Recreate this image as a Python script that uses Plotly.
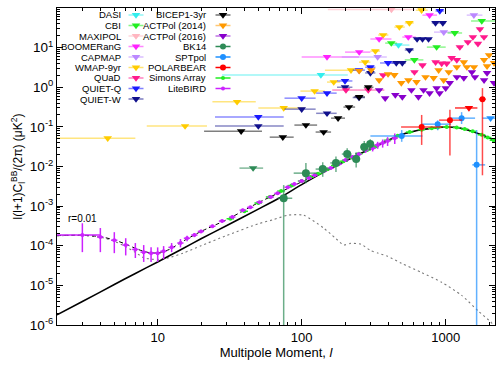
import math
import plotly.graph_objects as go

FONT = "Liberation Sans, Arial, Helvetica, sans-serif"

# ---------------- theory curves ----------------
lens_l = [2, 3, 5, 7, 10, 15, 20, 30, 50, 70, 100, 150, 200, 300, 400, 500, 700, 1000, 1200, 1500, 1800, 2000, 2200]
lens_D = [1.8e-6, 3.9e-6, 1.05e-5, 2.0e-5, 3.9e-5, 8.5e-5, 1.5e-4, 3.2e-4, 8.4e-4, 1.6e-3, 3.5e-3, 8.0e-3,
          1.35e-2, 2.8e-2, 4.6e-2, 6.5e-2, 8.6e-2, 9.9e-2, 9.6e-2, 7.9e-2, 6.2e-2, 5.3e-2, 4.5e-2]

tot_l = [2, 3, 4, 5, 6, 7, 8, 9, 10, 12, 15, 20, 30, 50, 70, 100, 150, 200, 300, 400, 500, 700, 1000, 1200,
         1500, 1800, 2000, 2200]
tot_D = [1.8e-4, 1.85e-4, 1.7e-4, 1.4e-4, 1.1e-4, 8.6e-5, 7.2e-5, 6.6e-5, 6.6e-5, 8.0e-5, 1.3e-4, 2.3e-4,
         4.5e-4, 1.22e-3, 2.2e-3, 4.1e-3, 8.3e-3, 1.37e-2, 2.8e-2, 4.6e-2, 6.5e-2, 8.6e-2, 9.9e-2, 9.6e-2,
         7.9e-2, 6.2e-2, 5.3e-2, 4.5e-2]

ten_l = [2, 3, 4, 5, 6, 7, 8, 9, 10, 12, 15, 20, 30, 50, 63, 80, 103, 142, 170, 196, 219, 257, 301, 340,
         395, 494, 681, 937, 1291, 1695, 2053, 2200]
ten_D = [1.8e-4, 1.8e-4, 1.65e-4, 1.3e-4, 9.5e-5, 6.8e-5, 5.0e-5, 4.6e-5, 4.5e-5, 5.0e-5, 6.5e-5, 1.0e-4,
         1.8e-4, 3.6e-4, 4.5e-4, 5.9e-4, 5.9e-4, 2.8e-4, 1.6e-4, 1.05e-4, 1.15e-4, 1.1e-4, 7.6e-5, 6.5e-5,
         5.4e-5, 3.6e-5, 2.1e-5, 1.2e-5, 5.6e-6, 2.2e-6, 1.2e-6, 9e-7]

# ---------------- upper limits: centre l, limit D, l_min, l_max ----------------
dasi_l, dasi_D, dasi_lo, dasi_hi = [136, 470], [2.04, 11.6], [28, 420], [209, 560]
cbi_l = [419, 606, 865, 1156, 1780]
cbi_D = [13, 4.9, 10.3, 23.4, 47]
cbi_lo = [380, 520, 740, 1030, 1500]
cbi_hi = [460, 700, 1000, 1300, 2200]
maxi_l, maxi_D, maxi_lo, maxi_hi = [420], [92], [152], [610]
boom_l = [150, 251, 345, 550, 773]
boom_D = [5.8, 7.7, 16.5, 18.5, 66]
boom_lo = [100, 200, 300, 500, 690]
boom_hi = [250, 300, 420, 620, 870]
capm_l = [337, 970, 1570]
capm_D = [5.8, 24.6, 66]
capm_lo = [190, 830, 1400]
capm_hi = [390, 1130, 1800]
wmap_l = [4.5, 15.5, 35.6, 75, 123, 167, 220, 276, 325, 368, 477, 560, 680]
wmap_D = [0.052, 0.105, 0.43, 0.30, 0.80, 1.35, 2.7, 4.3, 8.2, 20.8, 33, 42, 88]
wmap_lo = [2, 8.4, 24, 50, 98, 150, 145, 250, 300, 340, 440, 520, 620]
wmap_hi = [7, 22, 48, 105, 145, 185, 260, 300, 350, 400, 520, 600, 750]
quad_l = [203, 290, 368, 607, 690, 851, 938, 1016, 1100, 1195, 1254, 1426, 1545, 1675, 1730, 1845]
quad_D = [0.85, 0.85, 2.03, 2.42, 3.6, 4.3, 4.0, 4.0, 5.5, 4.9, 10.3, 13.8, 18.5, 12.6, 29.5, 18.5]
qq_l = [50, 100, 150, 200, 250, 300, 398, 910]
qq_D = [0.178, 0.53, 0.71, 1.44, 2.7, 3.2, 4.1, 84]
qq_lo = [25, 76, 126, 176, 226, 276, 350, 850]
qq_hi = [75, 125, 175, 225, 275, 325, 450, 975]
qw_l = [50, 100, 150, 200, 250, 300, 454, 500, 560, 633, 690, 760, 850, 955]
qw_D = [0.105, 0.28, 0.22, 1.0, 0.55, 2.3, 4.1, 4.1, 8.7, 16.5, 16.5, 16.5, 42, 42]
qw_lo = [25, 76, 126, 176, 226, 276, 420, 470, 520, 600, 660, 720, 800, 900]
qw_hi = [75, 125, 175, 225, 275, 325, 480, 530, 600, 660, 720, 800, 900, 1000]
bic_l = [38, 74, 107, 142, 179, 213, 251, 290]
bic_D = [0.078, 0.055, 0.111, 0.074, 0.166, 0.316, 0.57, 1.0]
bic_lo = [21, 60, 89, 125, 160, 195, 230, 270]
bic_hi = [53, 88, 128, 160, 200, 235, 275, 315]
a14_l = [251, 304, 345, 398, 440, 492, 551, 627, 724, 824, 893, 968, 1050, 1195, 1336, 1403, 1571, 1847,
         1937, 2000, 2166]
a14_D = [2.6, 2.7, 1.51, 2.15, 2.04, 1.28, 1.51, 1.36, 1.81, 1.72, 2.7, 1.51, 2.42, 3.24, 4.3, 3.24, 3.24,
         4.9, 3.4, 6.5, 4.1]
a16_l = [345, 380, 447, 500, 578, 647, 701, 773, 865, 907, 1000, 1067, 1195, 1336, 1520, 1596, 1847, 1937, 2166]
a16_D = [0.85, 0.53, 0.64, 0.57, 0.85, 0.57, 0.85, 0.71, 0.95, 0.71, 0.95, 1.28, 1.81, 1.72, 2.42, 1.81,
         1.51, 2.3, 1.28]

# ---------------- detections ----------------
bk_lim_l, bk_lim_D, bk_lim_lo, bk_lim_hi = [46], [0.0091], [37], [54]
bk_l = [75, 107, 140, 173, 207, 239, 272, 299]
bk_D = [1.58e-3, 6.8e-3, 8.6e-3, 0.0123, 0.0206, 0.0155, 0.031, 0.0368]
bk_up = [3.4e-3, 0.0123, 0.0128, 0.018, 0.029, 0.023, 0.044, 0.049]
bk_dn = [1e-8, 3.8e-3, 5.5e-3, 7.3e-3, 0.013, 9.5e-3, 0.022, 0.026]
bk_lo = [68, 88, 125, 158, 190, 222, 255, 285]
bk_hi = [86, 128, 157, 190, 222, 255, 285, 315]

spt_l = [495, 880, 1290, 1640]
spt_D = [0.059, 0.117, 0.166, 0.011]
spt_up = [0.083, 0.146, 0.235, 0.083]
spt_dn = [0.042, 0.082, 0.118, 1e-8]
spt_lo = [300, 680, 1070, 1530]
spt_hi = [690, 1090, 1600, 1880]
spt_lim_l, spt_lim_D, spt_lim_lo, spt_lim_hi = [2050], [0.166], [1800], [2200]

pb_l = [681, 1070, 1800]
pb_D = [0.099, 0.148, 0.5]
pb_up = [0.2, 0.27, 0.95]
pb_dn = [0.035, 0.019, 0.006]
pb_lo = [490, 900, 1700]
pb_hi = [950, 1300, 1900]
pb_lim_l, pb_lim_D, pb_lim_lo, pb_lim_hi = [1450], [0.3], [1160], [1660]

# ---------------- forecasts ----------------
sa_l = [32, 40, 50, 60, 72, 85, 100, 115, 130, 150, 170, 195, 220, 250, 285, 325, 395, 464, 563, 681, 800,
        880, 1016, 1192, 1355, 1540, 1778, 1958, 2150]
sa_D = [4.8e-4, 7.4e-4, 1.2e-3, 1.7e-3, 2.4e-3, 3.3e-3, 4.3e-3, 5.4e-3, 6.6e-3, 8.5e-3, 0.0106, 0.0136,
        0.017, 0.021, 0.026, 0.032, 0.046, 0.060, 0.074, 0.085, 0.092, 0.096, 0.099, 0.096, 0.088, 0.077,
        0.063, 0.054, 0.046]

lb_l = [3, 4, 5, 6, 7, 8, 9, 10, 11, 12.5, 14.4, 16, 18, 20, 24, 28, 33, 39, 44, 51, 61, 68, 80, 89, 100,
        112, 123, 142, 159, 181, 202, 226, 249, 278, 311, 337, 365, 395, 443]
lb_D = [1.86e-4, 1.66e-4, 1.38e-4, 1.04e-4, 8.1e-5, 6.9e-5, 6.5e-5, 6.5e-5, 7.3e-5, 9.1e-5, 1.17e-4,
        1.55e-4, 1.86e-4, 2.3e-4, 3.1e-4, 4.2e-4, 5.3e-4, 7.9e-4, 9.3e-4, 1.26e-3, 1.7e-3, 2.1e-3, 3.0e-3,
        3.6e-3, 4.3e-3, 5.1e-3, 6.0e-3, 7.6e-3, 9.1e-3, 0.0115, 0.0145, 0.0174, 0.0205, 0.026, 0.029, 0.035,
        0.039, 0.044, 0.052]
lb_up = [3.7e-4, 2.8e-4, 2.2e-4, 1.55e-4, 1.17e-4, 1.04e-4, 9.1e-5, 9.1e-5, 9.8e-5, 1.17e-4, 1.48e-4,
         1.8e-4, 2.1e-4, 2.55e-4, 3.4e-4, 4.6e-4, 5.8e-4, 8.6e-4, 1.0e-3, 1.36e-3, 1.83e-3, 2.26e-3, 3.2e-3,
         3.9e-3, 4.6e-3, 5.5e-3, 6.5e-3, 8.2e-3, 9.8e-3, 0.0125, 0.016, 0.0192, 0.0228, 0.030, 0.034, 0.042,
         0.048, 0.055, 0.068]
lb_lo = [6.9e-5, 6.9e-5, 6.5e-5, 5.7e-5, 4.9e-5, 3.9e-5, 3.9e-5, 3.9e-5, 4.6e-5, 6.9e-5, 9.1e-5, 1.3e-4,
         1.65e-4, 2.1e-4, 2.85e-4, 3.85e-4, 4.85e-4, 7.3e-4, 8.6e-4, 1.17e-3, 1.58e-3, 1.95e-3, 2.8e-3,
         3.35e-3, 4.0e-3, 4.7e-3, 5.5e-3, 7.0e-3, 8.4e-3, 0.0105, 0.0132, 0.0157, 0.0182, 0.022, 0.024,
         0.028, 0.030, 0.033, 0.037]

# ---------------- styles ----------------
C = {
    "DASI": "#33eeee", "CBI": "#22ee22", "MAXIPOL": "#ffb6c1", "BOOMERanG": "#ff22ff",
    "CAPMAP": "#bb88ff", "WMAP-9yr": "#ffcc00", "QUaD": "#ff1a8c", "QUIET-Q": "#1a1aff",
    "QUIET-W": "#10108c", "BICEP1-3yr": "#000000", "ACTPol (2014)": "#ff9900",
    "ACTPol (2016)": "#8800cc", "BK14": "#2e8b57", "SPTpol": "#1e90ff", "POLARBEAR": "#ff0000",
    "Simons Array": "#22ee22", "LiteBIRD": "#cc22ff",
}


def light(hexc, a=0.5):
    h = hexc.lstrip("#")
    r, g, b = int(h[0:2], 16), int(h[2:4], 16), int(h[4:6], 16)
    return f"rgba({r},{g},{b},{a})"


fig = go.Figure()
TRI = 7.5


def add_limits(l, d, lo, hi, color, size=TRI, alpha=0.5):
    fig.add_trace(go.Scatter(
        x=l, y=d, mode="markers",
        marker=dict(symbol="triangle-down", size=size, color=color, line=dict(width=0)),
        error_x=dict(type="data", symmetric=False,
                     array=[h - c for c, h in zip(l, hi)],
                     arrayminus=[c - o for c, o in zip(l, lo)],
                     color=light(color, alpha), thickness=1.5, width=0),
        showlegend=False, hoverinfo="skip"))


def frac_bins(l, f):
    return [c * (1 - f) for c in l], [c * (1 + f) for c in l]


add_limits(maxi_l, maxi_D, maxi_lo, maxi_hi, C["MAXIPOL"], alpha=0.6)
add_limits(wmap_l, wmap_D, wmap_lo, wmap_hi, C["WMAP-9yr"])
add_limits(dasi_l, dasi_D, dasi_lo, dasi_hi, C["DASI"])
add_limits(boom_l, boom_D, boom_lo, boom_hi, C["BOOMERanG"])
add_limits(capm_l, capm_D, capm_lo, capm_hi, C["CAPMAP"])
add_limits(cbi_l, cbi_D, cbi_lo, cbi_hi, C["CBI"])
add_limits(qw_l, qw_D, qw_lo, qw_hi, C["QUIET-W"])
add_limits(qq_l, qq_D, qq_lo, qq_hi, C["QUIET-Q"])
ql, qh = frac_bins(quad_l, 0.05)
ql[0], qh[0], ql[1], qh[1] = 163, 245, 245, 375
add_limits(quad_l, quad_D, ql, qh, C["QUaD"])
add_limits(bic_l, bic_D, bic_lo, bic_hi, C["BICEP1-3yr"])
lo, hi = frac_bins(a14_l, 0.04)
add_limits(a14_l, a14_D, lo, hi, C["ACTPol (2014)"])
lo, hi = frac_bins(a16_l, 0.04)
add_limits(a16_l, a16_D, lo, hi, C["ACTPol (2016)"])

# theory curves
fig.add_trace(go.Scatter(x=ten_l, y=ten_D, mode="lines", hoverinfo="skip", showlegend=False,
                         line=dict(color="#7a7a7a", width=1.1, dash="2px,3px", shape="spline", smoothing=0.6)))
fig.add_trace(go.Scatter(x=lens_l, y=lens_D, mode="lines", hoverinfo="skip", showlegend=False,
                         line=dict(color="black", width=1.6, shape="spline", smoothing=0.6)))
fig.add_trace(go.Scatter(x=tot_l, y=tot_D, mode="lines", hoverinfo="skip", showlegend=False,
                         line=dict(color="black", width=1.0, dash="4px,3px", shape="spline", smoothing=0.6)))

# forecasts (Simons Array below LiteBIRD)
fig.add_trace(go.Scatter(
    x=sa_l, y=sa_D, mode="markers", marker=dict(symbol="circle", size=4, color=C["Simons Array"]),
    error_y=dict(type="percent", value=6, color=C["Simons Array"], thickness=1.5, width=0),
    error_x=dict(type="percent", value=6, color=C["Simons Array"], thickness=1.5, width=0),
    showlegend=False, hoverinfo="skip"))
lb_xm = [1.0] + [c * 0.05 for c in lb_l[1:]]
fig.add_trace(go.Scatter(
    x=lb_l, y=lb_D, mode="markers", marker=dict(symbol="circle", size=4, color=C["LiteBIRD"]),
    error_y=dict(type="data", symmetric=False, array=[u - d for u, d in zip(lb_up, lb_D)],
                 arrayminus=[d - o for d, o in zip(lb_D, lb_lo)], color=C["LiteBIRD"], thickness=1.5, width=0),
    error_x=dict(type="data", array=lb_xm, color=C["LiteBIRD"], thickness=1.5, width=0),
    showlegend=False, hoverinfo="skip"))


def add_points(l, d, up, dn, lo, hi, color, size):
    fig.add_trace(go.Scatter(
        x=l, y=d, mode="markers", marker=dict(symbol="circle", size=size, color=color),
        error_y=dict(type="data", symmetric=False, array=[u - c for u, c in zip(up, d)],
                     arrayminus=[c - o for c, o in zip(d, dn)], color=light(color, 0.7), thickness=1.5, width=0),
        error_x=dict(type="data", symmetric=False, array=[h - c for c, h in zip(l, hi)],
                     arrayminus=[c - o for c, o in zip(l, lo)], color=light(color, 0.7), thickness=1.5, width=0),
        showlegend=False, hoverinfo="skip"))


add_limits(bk_lim_l, bk_lim_D, bk_lim_lo, bk_lim_hi, C["BK14"], alpha=0.6)
add_points(bk_l, bk_D, bk_up, bk_dn, bk_lo, bk_hi, C["BK14"], 8)
add_points(spt_l, spt_D, spt_up, spt_dn, spt_lo, spt_hi, C["SPTpol"], 6)
add_limits(spt_lim_l, spt_lim_D, spt_lim_lo, spt_lim_hi, C["SPTpol"], alpha=0.7)
add_points(pb_l, pb_D, pb_up, pb_dn, pb_lo, pb_hi, C["POLARBEAR"], 6)
add_limits(pb_lim_l, pb_lim_D, pb_lim_lo, pb_lim_hi, C["POLARBEAR"], alpha=0.8)

# ---------------- custom legend (text left of symbol) ----------------
leg_col1 = ["DASI", "CBI", "MAXIPOL", "BOOMERanG", "CAPMAP", "WMAP-9yr", "QUaD", "QUIET-Q", "QUIET-W"]
leg_col2 = ["BICEP1-3yr", "ACTPol (2014)", "ACTPol (2016)", "BK14", "SPTpol", "POLARBEAR",
            "Simons Array", "LiteBIRD"]
PW, PH, PL, PB = 438.0, 317.0, 57.0, 325.0   # plot-area size / origin in px (layout)
row0, drow = 15.0, 10.5
annotations = []
for col, names, sym_px, txt_px in [(0, leg_col1, 136.0, 123.0), (1, leg_col2, 223.0, 208.0)]:
    for i, name in enumerate(names):
        ypx = row0 + drow * i
        yp = (PB - ypx) / PH
        xs = (sym_px - PL) / PW
        annotations.append(dict(xref="paper", yref="paper", x=(txt_px - PL) / PW, y=yp, text=name,
                                showarrow=False, xanchor="right", yanchor="middle",
                                font=dict(size=9.5, family=FONT, color="black")))
        if name in ("Simons Array", "LiteBIRD"):
            sym, size = "circle", 4
            barc = C[name]
        elif name in ("BK14", "SPTpol", "POLARBEAR"):
            sym, size = "circle", 6
            barc = C[name]
        else:
            sym, size = "triangle-down", 7.5
            barc = light(C[name], 0.55)
        fig.add_trace(go.Scatter(
            x=[xs], y=[yp], xaxis="x2", yaxis="y2", mode="markers",
            marker=dict(symbol=sym, size=size, color=C[name]),
            error_x=dict(type="constant", value=7.5 / PW, color=barc, thickness=1.5, width=0),
            showlegend=False, hoverinfo="skip"))

annotations.append(dict(xref="x", yref="y", x=math.log10(3.0), y=math.log10(5.0e-4), text="r=0.01",
                        showarrow=False, xanchor="center", yanchor="middle",
                        font=dict(size=10, family=FONT, color="black")))

# ---------------- axes ----------------
x_minor = [m * 10 ** e for e in range(0, 4) for m in range(2, 10) if 2 <= m * 10 ** e <= 2200]
y_minor = [m * 10.0 ** e for e in range(-6, 2) for m in range(2, 10)]

fig.update_layout(
    width=500, height=367, margin=dict(l=57, r=5, t=8, b=42, autoexpand=False),
    paper_bgcolor="white", plot_bgcolor="white", showlegend=False,
    font=dict(family=FONT, size=12, color="black"),
    annotations=annotations,
    xaxis=dict(type="log", range=[math.log10(2), math.log10(2200)],
               tickvals=[10, 100, 1000], ticktext=["10", "100", "1000"], ticks="inside", ticklen=6,
               tickcolor="black", showline=True, linecolor="black", linewidth=1, mirror="ticks",
               showgrid=False, zeroline=False, tickfont=dict(size=13),
               minor=dict(tickvals=x_minor, ticks="inside", ticklen=3, tickcolor="black", showgrid=False),
               title=dict(text="Multipole Moment, <i>l</i>", font=dict(size=13), standoff=4)),
    yaxis=dict(type="log", range=[-6, 2],
               tickvals=[10.0 ** e for e in range(-6, 3)],
               ticktext=[f"10<sup>{e}</sup>" for e in range(-6, 3)],
               ticks="inside", ticklen=6, tickcolor="black", showline=True, linecolor="black",
               linewidth=1, mirror="ticks", showgrid=False, zeroline=False, tickfont=dict(size=13.5),
               minor=dict(tickvals=y_minor, ticks="inside", ticklen=3, tickcolor="black", showgrid=False),
               title=dict(text="l(l+1)C<sub>l</sub><sup>BB</sup>/(2π) (μK<sup>2</sup>)",
                          font=dict(size=12), standoff=4)),
    xaxis2=dict(overlaying="x", range=[0, 1], visible=False, fixedrange=True),
    yaxis2=dict(overlaying="y", range=[0, 1], visible=False, fixedrange=True),
)

fig.write_html("out.html", config={"displayModeBar": False},
               post_script="document.body.style.margin='0px';")
